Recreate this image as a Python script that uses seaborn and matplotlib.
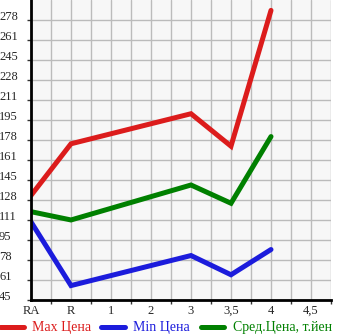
import matplotlib
matplotlib.use("Agg")
import matplotlib.pyplot as plt
import seaborn as sns
import numpy as np
import pandas as pd

x_labels = ["RA", "R", "1", "2", "3", "3,5", "4", "4,5"]
data_cats = ["RA", "R", "3", "3,5", "4"]
max_price = [132, 175, 200, 173, 286]
min_price = [110, 57, 82, 66, 87]
avg_price = [118.5, 111.6, 140.7, 125.5, 181]
y_tick_labels = [45, 61, 78, 95, 111, 128, 145, 161, 178, 195, 211, 228, 245, 261, 278]
series_names = ["Мах Цена", "Min Цена", "Сред.Цена, т.йен"]
colors = ["#dc1c1c", "#1c1cdc", "#008000"]

rows = []
for name, vals in zip(series_names, [max_price, min_price, avg_price]):
    for c, v in zip(data_cats, vals):
        rows.append({"pos": x_labels.index(c), "value": v, "series": name})
df = pd.DataFrame(rows)

sns.set_style("whitegrid", {"axes.facecolor": "#f7f7f7", "grid.color": "#bbbbbb",
                            "axes.edgecolor": "black"})
plt.rcParams['font.family'] = ['Liberation Serif', 'DejaVu Serif']

fig = plt.figure(figsize=(3.45, 3.35), dpi=100)
ax = fig.add_axes([31/345, 35/335, 300/345, 300/335])

sns.lineplot(data=df, x="pos", y="value", hue="series", palette=colors,
             linewidth=3.6, ax=ax, sort=False, legend=True)
for ln in ax.lines:
    ln.set_solid_capstyle("round")
    ln.set_solid_joinstyle("miter")

step = (y_tick_labels[-1] - y_tick_labels[0]) / (len(y_tick_labels) - 1)
yt = [y_tick_labels[0] + i * step for i in range(len(y_tick_labels))]
ax.set_ylim(y_tick_labels[0], y_tick_labels[0] + 15 * step)
ax.set_yticks(yt)
ax.set_yticklabels([str(v) for v in y_tick_labels], fontsize=9)
for t in ax.get_yticklabels():
    t.set_horizontalalignment("left")
    t.set_verticalalignment("baseline")
ax.tick_params(axis="y", length=3, width=1, color="#333333", pad=20, direction="out", left=True)

ax.set_xlim(0, 7.5)
ax.set_xticks(np.arange(0.5, 8, 1.0))
ax.set_xticklabels([])
ax.set_xticks(np.arange(0, 8, 1.0), minor=True)
ax.set_xticklabels(x_labels, minor=True, fontsize=9)
for t in ax.get_xticklabels(minor=True):
    t.set_verticalalignment("baseline")
ax.tick_params(axis="x", which="major", length=3, width=1, color="#333333", bottom=True, direction="out")
ax.tick_params(axis="x", which="minor", length=0, pad=10)
ax.grid(True, which="both", color="#bbbbbb", linewidth=1)
ax.set_axisbelow(True)

for s in ["top", "right"]:
    ax.spines[s].set_visible(False)
for s in ["left", "bottom"]:
    ax.spines[s].set_linewidth(2)
    ax.spines[s].set_color("black")
ax.set_xlabel("")
ax.set_ylabel("")

handles, labels = ax.get_legend_handles_labels()
ax.get_legend().remove()
leg = fig.legend(handles, labels, loc="center left", bbox_to_anchor=(0.0, 7/335),
                 bbox_transform=fig.transFigure, ncol=3, frameon=False,
                 fontsize=10, handlelength=1.7, handletextpad=0.6, columnspacing=0.75,
                 borderpad=0, borderaxespad=0)
for lh in leg.get_lines():
    lh.set_linewidth(3.6)
    lh.set_solid_capstyle("round")
for txt, c in zip(leg.get_texts(), colors):
    txt.set_color(c)

fig.savefig("out.png", dpi=100)
